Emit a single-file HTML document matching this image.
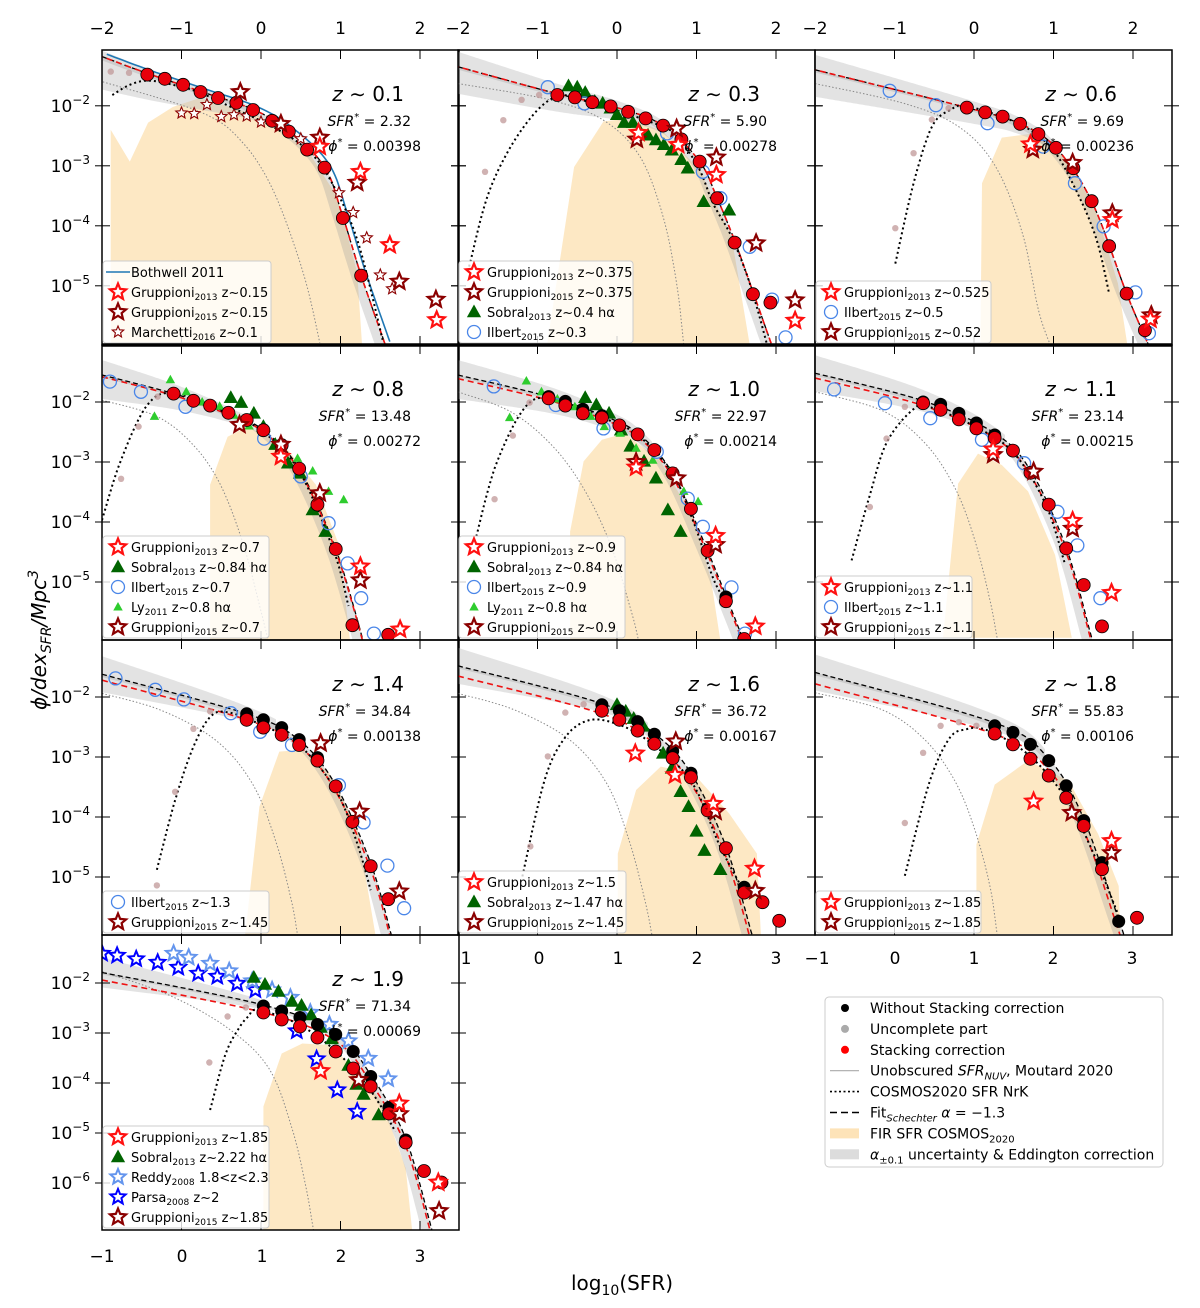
<!DOCTYPE html>
<html><head><meta charset="utf-8">
<style>
html,body{margin:0;padding:0;background:#fff;}
svg{display:block;font-family:"DejaVu Sans","Liberation Sans",sans-serif;}
</style></head>
<body>
<svg id="fig" xmlns="http://www.w3.org/2000/svg" width="1200" height="1308" viewBox="0 0 1200 1308"></svg>
<script>
// ===== DATA (log10 SFR, log10 phi) =====
// z~0.1
const z01_fitX=[-2,-1.43,-0.76,-0.10,0.35,0.80,1.03,1.26,1.56];
const z01_fitY=[-1.18,-1.46,-1.76,-2.06,-2.42,-3.02,-3.85,-4.83,-5.97];
const z01_dotX=[-1.87,-1.65,-1.42,-1.11,-0.77,-0.30,0.15,0.58,0.87,1.21,1.53];
const z01_dotY=[-1.82,-1.65,-1.58,-1.65,-1.78,-2.07,-2.35,-2.73,-3.23,-4.23,-5.9];
const z01_nuvX=[-1.99,-0.77,-0.26,0.15,0.53,0.74];
const z01_nuvY=[-1.6,-2.1,-2.57,-3.4,-4.78,-5.95];
const z01_firX=[-1.89,-1.89,-1.65,-1.42,-1.11,-0.77,-0.05,0.58,0.96,1.21,1.27];
const z01_firY=[-5.97,-2.4,-2.93,-2.28,-2.02,-1.87,-2.15,-2.73,-3.52,-4.78,-5.97];
const z01_redX=[-1.43,-1.21,-0.98,-0.76,-0.54,-0.31,-0.10,0.14,0.35,0.58,0.80,1.03,1.26];
const z01_redY=[-1.48,-1.55,-1.65,-1.77,-1.87,-1.95,-2.07,-2.25,-2.43,-2.73,-3.03,-3.87,-4.83];
const z01_grayX=[-1.89,-1.66]; const z01_grayY=[-1.43,-1.45];
const z01_g13X=[0.74,1.25,1.62,2.21]; const z01_g13Y=[-2.68,-3.1,-4.32,-5.57];
const z01_g15X=[-0.26,0.25,0.74,1.21,1.74,2.2]; const z01_g15Y=[-1.77,-2.3,-2.53,-3.28,-4.93,-5.23];
const z01_marX=[-1.0,-0.84,-0.68,-0.5,-0.34,-0.18,0,0.5,0.98,1.16,1.33,1.5,1.65];
const z01_marY=[-2.12,-2.13,-1.98,-2.18,-2.15,-2.17,-2.27,-2.55,-3.45,-3.78,-4.2,-4.82,-5.05];
// z~0.3
const z03_fitX=[-2,-0.75,0,0.58,1.04,1.26,1.48,1.71,1.95];
const z03_fitY=[-1.35,-1.80,-2.03,-2.33,-2.93,-3.54,-4.25,-5.1,-6.0];
const z03_dotX=[-1.86,-1.6,-1.2,-0.77,-0.3,0.58,0.81,1.04,1.21,1.44,1.67,1.89];
const z03_dotY=[-4.68,-3.4,-2.4,-1.85,-1.96,-2.35,-2.6,-3.07,-3.63,-4.18,-4.96,-5.99];
const z03_nuvX=[-2,-0.85,-0.17,0.29,0.58,0.75,0.84];
const z03_nuvY=[-1.63,-1.9,-2.24,-2.85,-3.85,-4.96,-5.99];
const z03_firX=[-0.88,-0.54,-0.17,0.18,0.58,1.04,1.44,1.67];
const z03_firY=[-5.99,-3.02,-2.26,-2.21,-2.43,-3.07,-4.18,-5.99];
const z03_redX=[-0.75,-0.53,-0.31,-0.08,0.14,0.36,0.58,0.81,1.04,1.26,1.48,1.71,1.93];
const z03_redY=[-1.82,-1.86,-1.94,-2.01,-2.10,-2.21,-2.33,-2.56,-2.93,-3.54,-4.28,-5.14,-5.28];
const z03_grayX=[-1.66,-1.43,-1.20,-0.98]; const z03_grayY=[-3.10,-2.24,-1.90,-1.82];
const z03_sobX=[-0.61,-0.50,-0.40,-0.28,-0.18,-0.08,0.00,0.09,0.20,0.29,0.39,0.49,0.59,0.69,0.81,0.89,1.09,1.41];
const z03_sobY=[-1.67,-1.69,-1.78,-1.93,-1.96,-2.04,-2.15,-2.28,-2.28,-2.43,-2.49,-2.57,-2.65,-2.74,-2.90,-3.04,-3.60,-3.74];
const z03_ilbX=[-0.87,-0.41,0.63,1.08,1.30,1.67,1.95,2.12];
const z03_ilbY=[-1.69,-1.96,-2.46,-3.10,-3.54,-4.35,-5.23,-5.86];
const z03_g15X=[0.25,0.75,1.25,1.75,2.24]; const z03_g15Y=[-2.56,-2.38,-2.86,-4.29,-5.24];
const z03_g13X=[0.27,0.77,1.25,2.24]; const z03_g13Y=[-2.45,-2.65,-3.15,-5.58];
// z~0.6
const z06_fitX=[-2,-0.09,0.58,1.03,1.48,1.92,2.2];
const z06_fitY=[-1.40,-2.03,-2.30,-2.70,-3.59,-5.13,-6.0];
const z06_dotX=[-0.99,-0.76,-0.53,-0.30,-0.08,0.55,0.96,1.24,1.53,1.70];
const z06_dotY=[-4.63,-3.29,-2.35,-2.07,-2.01,-2.29,-2.68,-3.29,-4.18,-5.13];
const z06_nuvX=[-2,-0.88,-0.19,0.27,0.61,0.81,0.96];
const z06_nuvY=[-1.63,-1.96,-2.35,-3.01,-4.13,-5.4,-5.99];
const z06_firX=[0.08,0.10,0.35,0.75,1.18,1.53,1.81,1.93];
const z06_firY=[-5.99,-3.29,-2.53,-2.46,-2.90,-3.74,-4.96,-5.99];
const z06_redX=[-0.09,0.14,0.36,0.58,0.81,1.03,1.25,1.48,1.70,1.92,2.15];
const z06_redY=[-2.03,-2.11,-2.18,-2.30,-2.47,-2.70,-3.04,-3.59,-4.34,-5.13,-5.74];
const z06_grayX=[-0.99,-0.76,-0.53,-0.32]; const z06_grayY=[-4.04,-2.79,-2.23,-2.04];
const z06_ilbX=[-1.06,-0.48,0.17,0.87,1.27,1.63,2.03,2.20];
const z06_ilbY=[-1.75,-1.99,-2.29,-2.68,-3.29,-4.01,-5.11,-5.79];
const z06_g15X=[0.74,1.24,1.74,2.23]; const z06_g15Y=[-2.73,-2.95,-3.79,-5.49];
const z06_g13X=[0.71,1.74,2.22]; const z06_g13Y=[-2.64,-3.9,-5.56];
// z~0.8
const z08_fitX=[-1,-0.1,0.59,1.03,1.48,1.94,2.29];
const z08_fitY=[-1.55,-1.86,-2.18,-2.47,-3.11,-4.45,-6.0];
const z08_dotX=[-1,-0.77,-0.43,-0.08,0.59,1.03,1.48,1.92,2.1];
const z08_dotY=[-3.97,-3.0,-2.05,-1.86,-2.2,-2.5,-3.15,-4.5,-5.4];
const z08_nuvX=[-1,-0.31,0.15,0.49,0.78,1.0,1.09];
const z08_nuvY=[-1.97,-2.24,-2.72,-3.38,-4.38,-5.49,-5.97];
const z08_firX=[0.36,0.36,0.58,0.83,1.29,1.69,1.98,2.12];
const z08_firY=[-5.97,-3.38,-2.58,-2.41,-2.72,-3.38,-4.38,-5.97];
const z08_redX=[-0.10,0.15,0.36,0.59,0.82,1.03,1.26,1.48,1.71,1.94,2.15,2.60];
const z08_redY=[-1.86,-1.98,-2.06,-2.18,-2.30,-2.47,-2.72,-3.11,-3.71,-4.45,-5.72,-5.88];
const z08_grayX=[-0.76,-0.54,-0.30]; const z08_grayY=[-3.28,-2.41,-1.91];
const z08_sobX=[0.62,0.75,0.91,1.03,1.18,1.34,1.49,1.65,1.81];
const z08_sobY=[-1.93,-2.01,-2.19,-2.41,-2.71,-3.02,-3.19,-3.80,-4.16];
const z08_lyX=[-0.14,-0.34,0.06,0.26,0.48,0.66,0.85,1.26,1.46,1.65,1.85,2.04];
const z08_lyY=[-1.63,-2.24,-1.83,-2.0,-2.07,-2.22,-2.40,-2.76,-2.94,-3.15,-3.49,-3.63];
const z08_ilbX=[-0.90,-0.51,0.05,1.04,1.50,1.85,2.09,2.26,2.42];
const z08_ilbY=[-1.66,-1.83,-2.08,-2.61,-3.24,-4.02,-4.69,-5.27,-5.86];
const z08_g15X=[0.73,1.25,1.74,2.25]; const z08_g15Y=[-2.38,-2.71,-3.52,-4.97];
const z08_g13X=[1.25,2.25,2.75]; const z08_g13Y=[-2.91,-4.74,-5.79];
// z~1.0
const z10_fitX=[-1,0.14,0.81,1.26,1.70,2.14,2.6];
const z10_fitY=[-1.55,-1.91,-2.22,-2.52,-3.19,-4.48,-6.0];
const z10_dotX=[-0.77,-0.51,-0.11,0.3,0.8,1.26,1.7,1.96,2.21,2.37];
const z10_dotY=[-4.24,-3.0,-2.02,-2.0,-2.25,-2.55,-3.2,-3.99,-4.94,-5.33];
const z10_nuvX=[-1,-0.34,0.18,0.58,0.92,1.18,1.27];
const z10_nuvY=[-1.83,-2.16,-2.72,-3.44,-4.38,-5.49,-5.97];
const z10_firX=[0.41,0.41,0.58,0.81,1.10,1.55,1.96,2.18,2.30];
const z10_firY=[-5.97,-4.16,-2.99,-2.63,-2.52,-2.99,-3.94,-4.94,-5.97];
const z10_blkX=[0.14,0.35,0.57,0.81,2.37]; const z10_blkY=[-1.91,-1.99,-2.12,-2.23,-5.25];
const z10_redX=[0.14,0.35,0.57,0.81,1.03,1.26,1.47,1.70,1.93,2.14,2.37,2.60];
const z10_redY=[-1.94,-2.06,-2.19,-2.26,-2.39,-2.54,-2.80,-3.19,-3.78,-4.48,-5.32,-5.95];
const z10_grayX=[-0.54,-0.31,-0.10]; const z10_grayY=[-3.62,-2.56,-2.01];
const z10_sobX=[0.60,0.74,0.90,1.05,1.17,1.34,1.49,1.64,1.80];
const z10_sobY=[-1.93,-2.05,-2.19,-2.47,-2.74,-2.99,-3.27,-3.80,-4.16];
const z10_lyX=[-0.14,-0.35,0.05,0.25,0.47,0.67,0.84,1.04,1.24,1.45,1.66,1.84,2.02];
const z10_lyY=[-1.65,-2.26,-1.83,-1.95,-2.08,-2.24,-2.41,-2.52,-2.77,-2.97,-3.15,-3.49,-3.66];
const z10_ilbX=[-0.55,0.23,0.83,1.50,1.89,2.08,2.44,2.61];
const z10_ilbY=[-1.74,-2.05,-2.44,-2.83,-3.61,-4.08,-5.09,-5.86];
const z10_g15X=[1.24,1.75,2.24]; const z10_g15Y=[-3.0,-3.27,-4.38];
const z10_g13X=[1.24,2.24,2.74]; const z10_g13Y=[-3.09,-4.23,-5.74];
// z~1.1
const z11_fitX=[-1,0.36,1.26,1.71,2.16,2.48,2.52];
const z11_fitY=[-1.52,-1.98,-2.52,-3.14,-4.43,-5.93,-6.1];
const z11_dotX=[-0.54,-0.31,-0.1,0.22,0.43,1.03,1.5,1.9,2.14];
const z11_dotY=[-4.64,-3.55,-2.68,-2.14,-2.08,-2.42,-2.85,-3.7,-4.68];
const z11_nuvX=[-1,-0.16,0.38,0.76,1.01,1.20,1.29];
const z11_nuvY=[-1.83,-2.14,-2.68,-3.43,-4.3,-5.3,-5.93];
const z11_firX=[0.61,0.80,1.05,1.35,1.68,2.02,2.23];
const z11_firY=[-5.93,-3.36,-2.86,-3.05,-3.49,-4.55,-5.93];
const z11_blkX=[0.36,0.58,0.81,1.03,1.26]; const z11_blkY=[-2.00,-2.04,-2.19,-2.35,-2.55];
const z11_redX=[0.36,0.58,0.81,1.03,1.26,1.49,1.71,1.94,2.16,2.38,2.61];
const z11_redY=[-2.02,-2.13,-2.29,-2.44,-2.60,-2.81,-3.18,-3.71,-4.44,-5.05,-5.74];
const z11_grayX=[-0.31,-0.10,0.13]; const z11_grayY=[-3.75,-2.61,-2.08];
const z11_ilbX=[-0.76,-0.12,0.45,1.10,1.63,2.05,2.30,2.59];
const z11_ilbY=[-1.79,-2.02,-2.27,-2.63,-3.02,-3.83,-4.39,-5.27];
const z11_g15X=[1.24,1.75,2.24]; const z11_g15Y=[-2.88,-3.16,-4.11];
const z11_g13X=[1.24,2.24,2.73]; const z11_g13Y=[-2.79,-3.98,-5.18];
// z~1.4
const z14_fitX=[-1,0.82,1.48,1.94,2.38,2.64];
const z14_fitY=[-1.62,-2.28,-2.72,-3.47,-4.77,-5.97];
const z14_dotX=[-0.31,-0.08,0.15,0.37,0.6,1.03,1.48,1.94,2.2,2.38];
const z14_dotY=[-4.88,-3.72,-2.83,-2.32,-2.26,-2.48,-2.8,-3.55,-4.4,-5.22];
const z14_nuvX=[-1,-0.26,0.43,0.89,1.18,1.38,1.46];
const z14_nuvY=[-1.94,-2.22,-2.72,-3.44,-4.38,-5.38,-5.97];
const z14_firX=[0.80,0.98,1.23,1.52,1.86,2.21,2.44];
const z14_firY=[-5.97,-3.83,-2.91,-2.88,-3.27,-4.16,-5.97];
const z14_blkX=[0.82,1.03,1.26,1.48,1.71]; const z14_blkY=[-2.28,-2.38,-2.51,-2.71,-3.01];
const z14_redX=[0.82,1.03,1.26,1.48,1.71,1.94,2.15,2.38,2.60];
const z14_redY=[-2.38,-2.51,-2.63,-2.80,-3.06,-3.49,-4.08,-4.82,-5.37];
const z14_grayX=[-0.31,-0.08,0.15,0.36]; const z14_grayY=[-5.14,-3.58,-2.53,-2.24];
const z14_ilbX=[-0.83,-0.33,0.03,0.62,0.99,1.39,1.98,2.29,2.59,2.80];
const z14_ilbY=[-1.69,-1.88,-2.04,-2.27,-2.58,-2.80,-3.47,-4.09,-4.81,-5.52];
const z14_g15X=[1.75,2.24,2.74]; const z14_g15Y=[-2.77,-3.91,-5.24];
// z~1.6
const z16_fitX=[-1,0.81,1.47,1.93,2.37,2.70];
const z16_fitY=[-1.48,-2.11,-2.61,-3.27,-4.49,-5.97];
const z16_dotX=[-0.19,0.09,0.35,0.64,0.98,1.38,1.93,2.3,2.61];
const z16_dotY=[-4.99,-3.38,-2.67,-2.39,-2.44,-2.72,-3.4,-4.5,-5.27];
const z16_nuvX=[-1,-0.28,0.41,0.87,1.15,1.35,1.44];
const z16_nuvY=[-1.94,-2.22,-2.72,-3.44,-4.38,-5.38,-5.97];
const z16_firX=[1.01,1.01,1.24,1.55,1.96,2.41,2.76,2.81];
const z16_firY=[-5.97,-4.61,-3.55,-3.16,-3.27,-3.94,-4.61,-5.97];
const z16_blkX=[0.81,1.03,1.26,1.47,1.70,1.93,2.14,2.60]; const z16_blkY=[-2.13,-2.23,-2.41,-2.62,-2.9,-3.27,-3.86,-5.17];
const z16_redX=[0.81,1.03,1.26,1.47,1.70,1.93,2.14,2.37,2.60,2.83,3.04];
const z16_redY=[-2.23,-2.38,-2.56,-2.78,-3.02,-3.34,-3.89,-4.52,-5.26,-5.42,-5.73];
const z16_grayX=[-0.09,0.13,0.35,0.58]; const z16_grayY=[-4.49,-2.99,-2.26,-2.12];
const z16_sobX=[1.0,1.11,1.21,1.33,1.47,1.58,1.69,1.80,1.90,2.00,2.10,2.30];
const z16_sobY=[-2.13,-2.24,-2.36,-2.49,-2.72,-2.94,-3.19,-3.58,-3.83,-4.24,-4.56,-4.88];
const z16_g13X=[1.23,1.73,2.21,2.73]; const z16_g13Y=[-2.94,-3.30,-3.78,-4.86];
const z16_g15X=[1.74,2.24,2.74]; const z16_g15Y=[-2.74,-3.91,-5.23];
// z~1.8
const z18_fitX=[-1,1.26,1.94,2.38,2.82,2.92];
const z18_fitY=[-1.59,-2.43,-3.03,-4.03,-5.71,-6.1];
const z18_dotX=[0.13,0.43,0.68,0.89,1.18,1.7,2.16,2.5,2.82];
const z18_dotY=[-4.98,-3.46,-2.71,-2.54,-2.56,-2.98,-3.7,-4.6,-5.65];
const z18_nuvX=[-1,-0.16,0.38,0.76,1.01,1.20,1.29];
const z18_nuvY=[-1.93,-2.21,-2.71,-3.4,-4.21,-5.15,-5.95];
const z18_firX=[1.03,1.03,1.26,1.68,2.19,2.56,2.82,2.84];
const z18_firY=[-5.95,-4.46,-3.46,-3.06,-3.4,-4.28,-5.15,-5.95];
const z18_blkX=[1.26,1.49,1.71,1.94,2.16,2.38,2.61,2.82]; const z18_blkY=[-2.48,-2.59,-2.79,-3.06,-3.48,-4.06,-4.76,-5.74];
const z18_redX=[1.26,1.49,1.71,1.94,2.16,2.38,2.61,3.05];
const z18_redY=[-2.61,-2.79,-3.03,-3.31,-3.68,-4.15,-4.87,-5.68];
const z18_grayX=[0.13,0.36,0.58,0.81,1.03]; const z18_grayY=[-4.1,-2.93,-2.48,-2.42,-2.48];
const z18_g13X=[1.75,2.73]; const z18_g13Y=[-3.74,-4.4];
const z18_g15X=[2.23,2.73]; const z18_g15Y=[-3.93,-4.6];
// z~1.9
const z19_fitX=[-1,1.03,1.94,2.38,2.82,3.15];
const z19_fitY=[-1.79,-2.44,-3.01,-3.84,-5.11,-6.94];
const z19_dotX=[0.36,0.55,0.72,0.84,0.97,1.5,2.0,2.4,2.69];
const z19_dotY=[-4.54,-3.44,-2.91,-2.67,-2.54,-2.85,-3.45,-4.2,-4.97];
const z19_nuvX=[-1,-0.16,0.59,1.10,1.39,1.56,1.66];
const z19_nuvY=[-1.77,-2.24,-2.91,-3.71,-4.91,-6.04,-6.94];
const z19_firX=[1.03,1.03,1.26,1.52,1.85,2.19,2.52,2.82,2.90];
const z19_firY=[-6.94,-4.47,-3.41,-3.21,-3.24,-3.71,-4.37,-5.71,-6.94];
const z19_blkX=[1.03,1.26,1.49,1.71,1.94,2.16,2.38,2.61,2.82]; const z19_blkY=[-2.46,-2.56,-2.69,-2.83,-3.03,-3.37,-3.87,-4.49,-5.14];
const z19_redX=[1.03,1.26,1.49,1.71,1.94,2.16,2.38,2.61,2.82,3.05,3.27];
const z19_redY=[-2.59,-2.73,-2.87,-3.09,-3.37,-3.71,-4.07,-4.61,-5.19,-5.76,-5.99];
const z19_grayX=[0.35,0.58,0.81]; const z19_grayY=[-3.59,-2.67,-2.49];
const z19_parX=[-1.0,-0.81,-0.57,-0.30,-0.04,0.21,0.45,0.70,0.93,1.45,1.70,1.96,2.21];
const z19_parY=[-1.41,-1.45,-1.52,-1.59,-1.69,-1.81,-1.87,-2.01,-2.14,-2.96,-3.52,-4.14,-4.57];
const z19_redX2=[-0.10,0.09,0.36,0.60,0.89,1.14,1.37,1.62,1.86,2.10,2.35,2.60];
const z19_redY2=[-1.41,-1.49,-1.61,-1.76,-1.96,-2.14,-2.29,-2.59,-2.83,-3.16,-3.51,-3.92];
const z19_sobX=[0.91,1.05,1.22,1.39,1.51,1.63,1.75,1.89,2.10,2.20,2.29,2.48];
const z19_sobY=[-1.89,-2.03,-2.17,-2.37,-2.45,-2.64,-2.89,-3.12,-3.65,-4.03,-4.23,-4.64];
const z19_g13X=[1.75,2.74,3.23]; const z19_g13Y=[-3.76,-4.41,-5.99];
const z19_g15X=[2.23,2.74,3.24]; const z19_g15Y=[-3.94,-4.62,-6.56];
// fit parameters printed
const zLabels=["0.1","0.3","0.6","0.8","1.0","1.1","1.4","1.6","1.8","1.9"];
const sfrStar=["2.32","5.90","9.69","13.48","22.97","23.14","34.84","36.72","55.83","71.34"];
const phiStar=["0.00398","0.00278","0.00236","0.00272","0.00214","0.00215","0.00138","0.00167","0.00106","0.00069"];

// ===== GEOMETRY =====
const NS="http://www.w3.org/2000/svg";
const svg=document.getElementById('fig');
const colL=[102,458,815], rowT=[50,345,640,935];
const PW=357, PH=295, PPU=79.5;
function mk(tag,attrs,parent){const e=document.createElementNS(NS,tag);for(const k in attrs)e.setAttribute(k,attrs[k]);(parent||svg).appendChild(e);return e;}

const panels=[
 {k:'z01',c:0,r:0,x0:-2,yT:-1.07,pd:60,band:[0.1,0.55,-0.05],roff:0,blue:true},
 {k:'z03',c:1,r:0,x0:-2,yT:-1.07,pd:60,band:[0.25,0.45,0.6],roff:0},
 {k:'z06',c:2,r:0,x0:-2,yT:-1.07,pd:60,band:[0.25,0.45,1.0],roff:0},
 {k:'z08',c:0,r:1,x0:-1,yT:-1.05,pd:60,band:[0.25,0.4,0.8],roff:0.03},
 {k:'z10',c:1,r:1,x0:-1,yT:-1.05,pd:60,band:[0.25,0.4,1.45],roff:0.06},
 {k:'z11',c:2,r:1,x0:-1,yT:-1.05,pd:60,band:[0.3,0.3,1.4],roff:0.08},
 {k:'z14',c:0,r:2,x0:-1,yT:-1.05,pd:60,band:[0.3,0.3,1.2],roff:0.1},
 {k:'z16',c:1,r:2,x0:-1,yT:-1.05,pd:60,band:[0.3,0.3,1.4],roff:0.17},
 {k:'z18',c:2,r:2,x0:-1,yT:-1.05,pd:60,band:[0.3,0.3,1.9],roff:0.19},
 {k:'z19',c:0,r:3,x0:-1,yT:-1.04,pd:50,band:[0.3,0.3,1.0],roff:0.15}
];
const DATA={
 z01:{fit:[z01_fitX,z01_fitY],dot:[z01_dotX,z01_dotY],nuv:[z01_nuvX,z01_nuvY],fir:[z01_firX,z01_firY],
   series:[['gray',z01_grayX,z01_grayY],['mar',z01_marX,z01_marY],['red',z01_redX,z01_redY],['g15',z01_g15X,z01_g15Y],['g13',z01_g13X,z01_g13Y]]},
 z03:{fit:[z03_fitX,z03_fitY],dot:[z03_dotX,z03_dotY],nuv:[z03_nuvX,z03_nuvY],fir:[z03_firX,z03_firY],
   series:[['gray',z03_grayX,z03_grayY],['sob',z03_sobX,z03_sobY],['ilb',z03_ilbX,z03_ilbY],['red',z03_redX,z03_redY],['g15',z03_g15X,z03_g15Y],['g13',z03_g13X,z03_g13Y]]},
 z06:{fit:[z06_fitX,z06_fitY],dot:[z06_dotX,z06_dotY],nuv:[z06_nuvX,z06_nuvY],fir:[z06_firX,z06_firY],
   series:[['gray',z06_grayX,z06_grayY],['ilb',z06_ilbX,z06_ilbY],['red',z06_redX,z06_redY],['g15',z06_g15X,z06_g15Y],['g13',z06_g13X,z06_g13Y]]},
 z08:{fit:[z08_fitX,z08_fitY],dot:[z08_dotX,z08_dotY],nuv:[z08_nuvX,z08_nuvY],fir:[z08_firX,z08_firY],
   series:[['gray',z08_grayX,z08_grayY],['sob',z08_sobX,z08_sobY],['ly',z08_lyX,z08_lyY],['ilb',z08_ilbX,z08_ilbY],['red',z08_redX,z08_redY],['g15',z08_g15X,z08_g15Y],['g13',z08_g13X,z08_g13Y]]},
 z10:{fit:[z10_fitX,z10_fitY],dot:[z10_dotX,z10_dotY],nuv:[z10_nuvX,z10_nuvY],fir:[z10_firX,z10_firY],
   series:[['gray',z10_grayX,z10_grayY],['sob',z10_sobX,z10_sobY],['ly',z10_lyX,z10_lyY],['ilb',z10_ilbX,z10_ilbY],['blk',z10_blkX,z10_blkY],['red',z10_redX,z10_redY],['g15',z10_g15X,z10_g15Y],['g13',z10_g13X,z10_g13Y]]},
 z11:{fit:[z11_fitX,z11_fitY],dot:[z11_dotX,z11_dotY],nuv:[z11_nuvX,z11_nuvY],fir:[z11_firX,z11_firY],
   series:[['gray',z11_grayX,z11_grayY],['ilb',z11_ilbX,z11_ilbY],['blk',z11_blkX,z11_blkY],['red',z11_redX,z11_redY],['g15',z11_g15X,z11_g15Y],['g13',z11_g13X,z11_g13Y]]},
 z14:{fit:[z14_fitX,z14_fitY],dot:[z14_dotX,z14_dotY],nuv:[z14_nuvX,z14_nuvY],fir:[z14_firX,z14_firY],
   series:[['gray',z14_grayX,z14_grayY],['ilb',z14_ilbX,z14_ilbY],['blk',z14_blkX,z14_blkY],['red',z14_redX,z14_redY],['g15',z14_g15X,z14_g15Y]]},
 z16:{fit:[z16_fitX,z16_fitY],dot:[z16_dotX,z16_dotY],nuv:[z16_nuvX,z16_nuvY],fir:[z16_firX,z16_firY],
   series:[['gray',z16_grayX,z16_grayY],['sob',z16_sobX,z16_sobY],['blk',z16_blkX,z16_blkY],['red',z16_redX,z16_redY],['g15',z16_g15X,z16_g15Y],['g13',z16_g13X,z16_g13Y]]},
 z18:{fit:[z18_fitX,z18_fitY],dot:[z18_dotX,z18_dotY],nuv:[z18_nuvX,z18_nuvY],fir:[z18_firX,z18_firY],
   series:[['gray',z18_grayX,z18_grayY],['blk',z18_blkX,z18_blkY],['red',z18_redX,z18_redY],['g15',z18_g15X,z18_g15Y],['g13',z18_g13X,z18_g13Y]]},
 z19:{fit:[z19_fitX,z19_fitY],dot:[z19_dotX,z19_dotY],nuv:[z19_nuvX,z19_nuvY],fir:[z19_firX,z19_firY],
   series:[['gray',z19_grayX,z19_grayY],['par',z19_parX,z19_parY],['red2',z19_redX2,z19_redY2],['sob',z19_sobX,z19_sobY],['blk',z19_blkX,z19_blkY],['red',z19_redX,z19_redY],['g15',z19_g15X,z19_g15Y],['g13',z19_g13X,z19_g13Y]]}
};
const LEG={
 z01:[['bline','Bothwell 2011','',''],['g13','Gruppioni','2013',' z~0.15'],['g15','Gruppioni','2015',' z~0.15'],['mar','Marchetti','2016',' z~0.1'],168],
 z03:[['g13','Gruppioni','2013',' z~0.375'],['g15','Gruppioni','2015',' z~0.375'],['sob','Sobral','2013',' z~0.4 hα'],['ilb','Ilbert','2015',' z~0.3'],174],
 z06:[['g13','Gruppioni','2013',' z~0.525'],['ilb','Ilbert','2015',' z~0.5'],['g15','Gruppioni','2015',' z~0.52'],175],
 z08:[['g13','Gruppioni','2013',' z~0.7'],['sob','Sobral','2013',' z~0.84 hα'],['ilb','Ilbert','2015',' z~0.7'],['ly','Ly','2011',' z~0.8 hα'],['g15','Gruppioni','2015',' z~0.7'],166],
 z10:[['g13','Gruppioni','2013',' z~0.9'],['sob','Sobral','2013',' z~0.84 hα'],['ilb','Ilbert','2015',' z~0.9'],['ly','Ly','2011',' z~0.8 hα'],['g15','Gruppioni','2015',' z~0.9'],166],
 z11:[['g13','Gruppioni','2013',' z~1.1'],['ilb','Ilbert','2015',' z~1.1'],['g15','Gruppioni','2015',' z~1.1'],156],
 z14:[['ilb','Ilbert','2015',' z~1.3'],['g15','Gruppioni','2015',' z~1.45'],166],
 z16:[['g13','Gruppioni','2013',' z~1.5'],['sob','Sobral','2013',' z~1.47 hα'],['g15','Gruppioni','2015',' z~1.45'],167],
 z18:[['g13','Gruppioni','2013',' z~1.85'],['g15','Gruppioni','2015',' z~1.85'],165],
 z19:[['g13','Gruppioni','2013',' z~1.85'],['sob','Sobral','2013',' z~2.22 hα'],['red2','Reddy','2008',' 1.8&lt;z&lt;2.3'],['par','Parsa','2008',' z~2'],['g15','Gruppioni','2015',' z~1.85'],166]
};

function catmull(pts,n){const out=[];for(let i=0;i<pts.length-1;i++){const p0=pts[i-1]||pts[i],p1=pts[i],p2=pts[i+1],p3=pts[i+2]||p2;
 for(let s=0;s<n;s++){const t=s/n,t2=t*t,t3=t2*t;
  const f=(a,b,c,d)=>0.5*((2*b)+(-a+c)*t+(2*a-5*b+4*c-d)*t2+(-a+3*b-3*c+d)*t3);
  out.push([f(p0[0],p1[0],p2[0],p3[0]),f(p0[1],p1[1],p2[1],p3[1])]);}}
 out.push(pts[pts.length-1]);return out;}
function pathD(pts){return pts.map((p,i)=>(i?'L':'M')+p[0].toFixed(1)+','+p[1].toFixed(1)).join('');}
function yAt(poly,X){if(X<=poly[0][0])return poly[0][1];for(let i=1;i<poly.length;i++){if(poly[i][0]>=X){const a=poly[i-1],b=poly[i];const t=(X-a[0])/((b[0]-a[0])||1);return a[1]+t*(b[1]-a[1]);}}return poly[poly.length-1][1];}

function star(cx,cy,R){let d='';for(let i=0;i<10;i++){const r=i%2?R*0.45:R;const a=-Math.PI/2+i*Math.PI/5;d+=(i?'L':'M')+(cx+r*Math.cos(a)).toFixed(1)+','+(cy+r*Math.sin(a)).toFixed(1);}return d+'Z';}
function tri(cx,cy,s){return `M${cx},${cy-s}L${cx+s*0.95},${cy+s*0.7}L${cx-s*0.95},${cy+s*0.7}Z`;}
function marker(g,type,X,Y,name){let e;
 if(type==='red')e=mk('circle',{cx:X,cy:Y,r:6.5,fill:'#e8000b','stroke':'#000','stroke-width':0.8},g);
 else if(type==='blk')e=mk('circle',{cx:X,cy:Y,r:6.5,fill:'#000'},g);
 else if(type==='gray')e=mk('circle',{cx:X,cy:Y,r:3.2,fill:'#c09898','fill-opacity':0.75},g);
 else if(type==='ilb')e=mk('circle',{cx:X,cy:Y,r:6.5,fill:'none',stroke:'#4a86e8','stroke-width':1.3},g);
 else if(type==='g13')e=mk('path',{d:star(X,Y,8.5),fill:'#fff',stroke:'#ff1010','stroke-width':2.2},g);
 else if(type==='g15')e=mk('path',{d:star(X,Y,8.5),fill:'#fff',stroke:'#8b0000','stroke-width':2.2},g);
 else if(type==='mar')e=mk('path',{d:star(X,Y,6),fill:'#fff',stroke:'#8b0000','stroke-width':1.1},g);
 else if(type==='par')e=mk('path',{d:star(X,Y,8),fill:'#fff',stroke:'#0000ff','stroke-width':2},g);
 else if(type==='red2')e=mk('path',{d:star(X,Y,8),fill:'#fff',stroke:'#6495ed','stroke-width':2},g);
 else if(type==='sob')e=mk('path',{d:tri(X,Y,7.5),fill:'#006400'},g);
 else if(type==='ly')e=mk('path',{d:tri(X,Y,5),fill:'#2ecc2e'},g);
 else if(type==='bline')e=mk('line',{x1:X-12,y1:Y,x2:X+12,y2:Y,stroke:'#1f77b4','stroke-width':1.6},g);
 
 
 return e;}

const defs=mk('defs',{});
panels.forEach((p,pi)=>{
 const L=colL[p.c],T=rowT[p.r];
 const sx=x=>L+(x-p.x0)*PPU, sy=ly=>T+(p.yT-ly)*p.pd;
 const D=DATA[p.k];
 const cp=mk('clipPath',{id:'clip'+pi},defs);mk('rect',{x:L,y:T,width:PW,height:PH},cp);
 const g=mk('g',{'clip-path':`url(#clip${pi})`});
 
 
 const scr=(xs,ys)=>xs.map((x,i)=>[sx(x),sy(ys[i])]);
 const fitPoly=catmull(scr(D.fit[0],D.fit[1]),12);
 const fp=scr(D.fir[0],D.fir[1]);
 const fir=mk('path',{d:pathD(fp)+'Z',fill:'#fde8c4'},g);
 
 
 const [u0,l0,xe]=p.band;const Xs=L,Xe=sx(xe);const up=[],lo=[];
 for(let X=Xs;X<=Xe+0.01;X+=2){const y=yAt(fitPoly,X);const f=1-0.7*(X-Xs)/(Xe-Xs);up.push([X,y-u0*p.pd*f]);lo.push([X,y+l0*p.pd*f]);}
 const band=mk('path',{d:pathD(up.concat(lo.reverse()))+'Z',fill:'#bdbdbd','fill-opacity':0.42},g);
 
 
 const sh=fitPoly.map(q=>[q[0]-0.13*PPU,q[1]]);
 const edd=mk('path',{d:pathD(fitPoly.concat(sh.reverse()))+'Z',fill:'#9a9a9a','fill-opacity':0.3},g);
 
 
 const nuv=mk('path',{d:pathD(catmull(scr(D.nuv[0],D.nuv[1]),10)),fill:'none',stroke:'#888','stroke-width':1,'stroke-dasharray':'1.5,2'},g);
 
 
 if(p.blue){const bp=mk('path',{d:pathD(catmull(scr(D.fit[0].map(x=>x+0.06),D.fit[1].map(y=>y+0.04)),12)),fill:'none',stroke:'#1f77b4','stroke-width':1.6},g);
  
  }
 const fb=mk('path',{d:pathD(fitPoly),fill:'none',stroke:'#000','stroke-width':1.3,'stroke-dasharray':'5,3'},g);
 
 
 const rp=catmull(scr(D.fit[0],D.fit[1].map(y=>y-p.roff)),12);
 const fr=mk('path',{d:pathD(rp),fill:'none',stroke:'#ee1111','stroke-width':1.6,'stroke-dasharray':'6,4','stroke-dashoffset':p.roff?0:5},g);
 
 
 const dt=mk('path',{d:pathD(catmull(scr(D.dot[0],D.dot[1]),10)),fill:'none',stroke:'#000','stroke-width':2,'stroke-dasharray':'2,3'},g);
 
 
 D.series.forEach(s=>{s[1].forEach((x,i)=>marker(g,s[0],sx(x),sy(s[2][i]),s[0]+'-point'));});
 const fr2=mk('rect',{x:L,y:T,width:PW,height:PH,fill:'none',stroke:'#000','stroke-width':1.5});
 
 
 for(let x=Math.ceil(p.x0);x<=p.x0+PW/PPU;x++){const X=sx(x);
  mk('line',{x1:X,y1:T,x2:X,y2:T+9,stroke:'#000','stroke-width':1});
  mk('line',{x1:X,y1:T+PH,x2:X,y2:T+PH-9,stroke:'#000','stroke-width':1});}
 for(let d=-2;d>=p.yT-PH/p.pd;d--){const Y=sy(d);
  mk('line',{x1:L-7,y1:Y,x2:L+8,y2:Y,stroke:'#000','stroke-width':1});
  mk('line',{x1:L+PW-8,y1:Y,x2:L+PW+7,y2:Y,stroke:'#000','stroke-width':1});
  if(p.c===0){const t=mk('text',{x:L-12,y:Y+6,'text-anchor':'end','font-size':17});
   
   
   t.innerHTML=`10<tspan font-size="12" dy="-8">−${-d}</tspan>`;}}
 const a1=mk('text',{x:L+302,y:T+51,'text-anchor':'end','font-size':20});
 
 
 a1.innerHTML=`<tspan font-style="italic">z</tspan> ∼ ${zLabels[pi]}`;
 const a2=mk('text',{x:L+309,y:T+76,'text-anchor':'end','font-size':14});
 
 
 a2.innerHTML=`<tspan font-style="italic">SFR</tspan><tspan font-size="10" dy="-6">*</tspan><tspan dy="6"> = ${sfrStar[pi]}</tspan>`;
 const a3=mk('text',{x:L+319,y:T+101,'text-anchor':'end','font-size':14});
 
 
 a3.innerHTML=`<tspan font-style="italic">ϕ</tspan><tspan font-size="10" dy="-6">*</tspan><tspan dy="6"> = ${phiStar[pi]}</tspan>`;
 const lg=LEG[p.k];const W=lg[lg.length-1];const rows=lg.slice(0,-1);const H=rows.length*20+2;
 const lgG=mk('g',{});
 
 
 mk('rect',{x:L+1,y:T+PH-H-2,width:W,height:H,rx:3,fill:'#fff','fill-opacity':0.8,stroke:'#ccc','stroke-width':1},lgG);
 rows.forEach((r,i)=>{const cy=T+PH-H-2+11+i*20;
  marker(lgG,r[0],L+16,cy,'legend-marker');
  const t=mk('text',{x:L+29,y:cy+5,'font-size':13},lgG);
  
  
  t.innerHTML=r[2]?`${r[1]}<tspan font-size="9" dy="3">${r[2]}</tspan><tspan dy="-3">${r[3]}</tspan>`:r[1];});
});
mk('line',{x1:102,y1:345,x2:1172,y2:345,stroke:'#000','stroke-width':3.5});
function xl(X,Y,s){const t=mk('text',{x:X,y:Y,'text-anchor':'middle','font-size':17});
 
 
 t.textContent=s;}
[102,458,815].forEach(L=>{['−2','−1','0','1','2'].forEach((s,i)=>xl(L+i*PPU,34,s));});
[['1',466],['0',539],['1',618],['2',697],['3',776],['−1',817],['0',895],['1',974],['2',1053],['3',1132]].forEach(a=>xl(a[1],964,a[0]));
[['−1',102],['0',182],['1',262],['2',341],['3',420]].forEach(a=>xl(a[1],1262,a[0]));
const yt=mk('text',{x:0,y:0,'text-anchor':'middle','font-size':20,transform:'translate(46,640) rotate(-90)'});


yt.innerHTML='<tspan font-style="italic">ϕ/dex</tspan><tspan font-style="italic" font-size="14" dy="5">SFR</tspan><tspan font-style="italic" dy="-5">/Mpc</tspan><tspan font-style="italic" font-size="14" dy="-8">3</tspan>';
const xt=mk('text',{x:622,y:1290,'text-anchor':'middle','font-size':20});


xt.innerHTML='log<tspan font-size="14" dy="5">10</tspan><tspan dy="-5">(SFR)</tspan>';
const ml=mk('g',{});


mk('rect',{x:825,y:997,width:338,height:170,rx:4,fill:'#fff',stroke:'#ccc','stroke-width':1},ml);
const mlRows=[['Without Stacking correction'],['Uncomplete part'],['Stacking correction'],['Unobscured <tspan font-style="italic">SFR</tspan><tspan font-style="italic" font-size="10" dy="4">NUV</tspan><tspan dy="-4">, Moutard 2020</tspan>'],['COSMOS2020 SFR NrK'],['Fit<tspan font-style="italic" font-size="10" dy="4">Schechter</tspan><tspan dy="-4"> </tspan><tspan font-style="italic">α</tspan> = −1.3'],['FIR SFR COSMOS<tspan font-size="10" dy="4">2020</tspan>'],['<tspan font-style="italic">α</tspan><tspan font-size="10" dy="4">±0.1</tspan><tspan dy="-4"> uncertainty &amp; Eddington correction</tspan>']];
mlRows.forEach((r,i)=>{const cy=1008+i*20.9;
 let e;
 if(i===0)e=mk('circle',{cx:845,cy:cy,r:4,fill:'#000'},ml);
 if(i===1)e=mk('circle',{cx:845,cy:cy,r:4,fill:'#aaa'},ml);
 if(i===2)e=mk('circle',{cx:845,cy:cy,r:4,fill:'#f00'},ml);
 if(i===3)e=mk('line',{x1:830,y1:cy,x2:859,y2:cy,stroke:'#aaa','stroke-width':1.2},ml);
 if(i===4)e=mk('line',{x1:830,y1:cy,x2:859,y2:cy,stroke:'#000','stroke-width':1.6,'stroke-dasharray':'2,2.5'},ml);
 if(i===5)e=mk('line',{x1:830,y1:cy,x2:859,y2:cy,stroke:'#000','stroke-width':1.6,'stroke-dasharray':'7,4'},ml);
 if(i===6)e=mk('rect',{x:830,y:cy-5,width:29,height:10,fill:'#fde3b8'},ml);
 if(i===7)e=mk('rect',{x:830,y:cy-5,width:29,height:10,fill:'#dcdcdc'},ml);
 
 
 const t=mk('text',{x:870,y:cy+5,'font-size':14},ml);
 
 
 t.innerHTML=r[0];});
</script>
</body></html>
